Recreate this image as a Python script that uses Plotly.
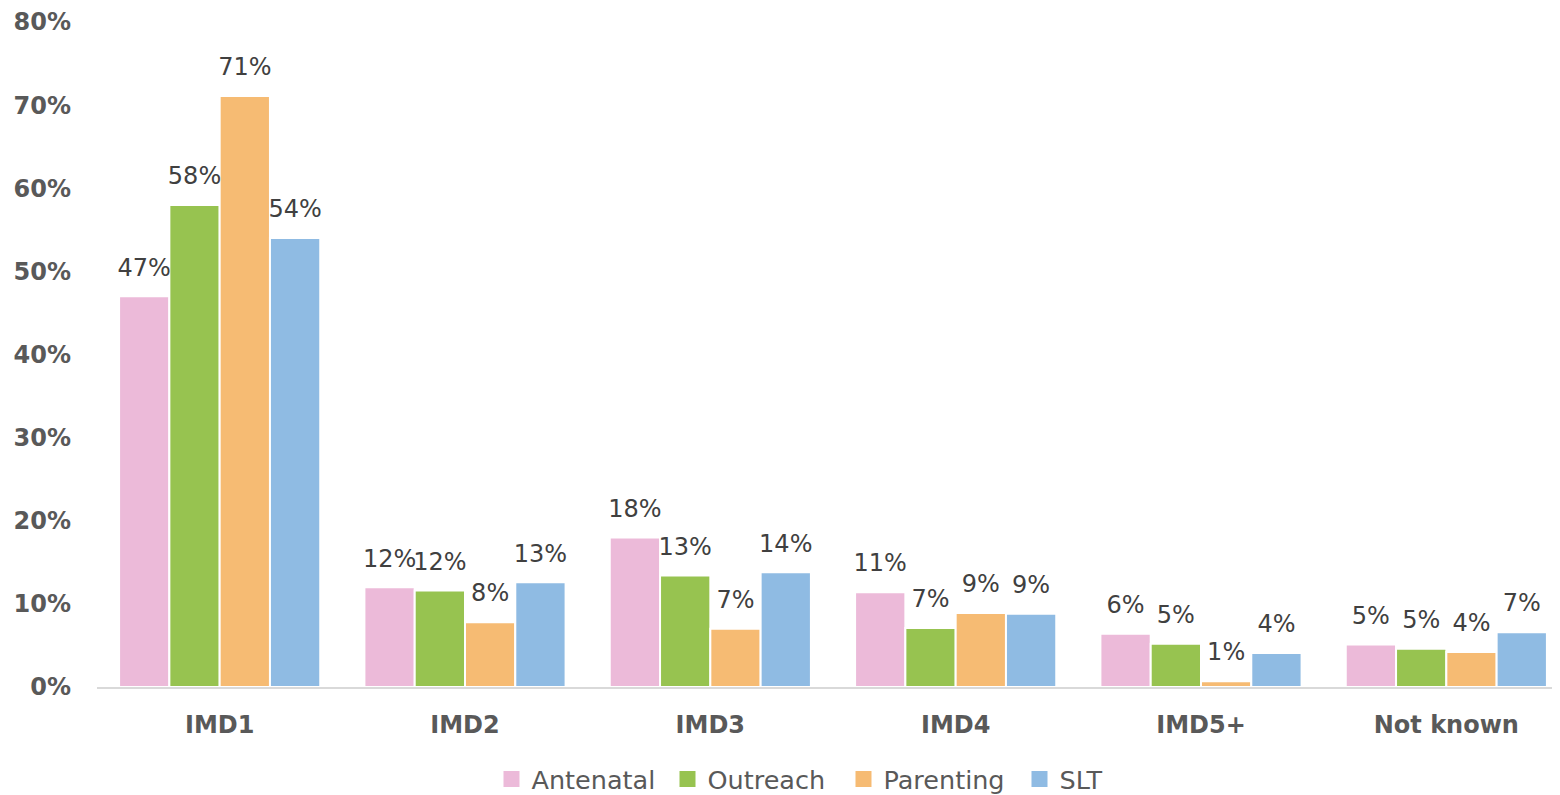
import plotly.graph_objects as go

# IMD categories and share of families per programme
categories = ["IMD1", "IMD2", "IMD3", "IMD4", "IMD5+", "Not known"]
antenatal = [0.47, 0.12, 0.18, 0.114, 0.064, 0.051]
outreach = [0.58, 0.116, 0.134, 0.071, 0.052, 0.046]
parenting = [0.711, 0.078, 0.070, 0.089, 0.007, 0.042]
slt = [0.54, 0.126, 0.138, 0.088, 0.041, 0.066]

series = [
    ("Antenatal", antenatal, "#ECBAD9"),
    ("Outreach", outreach, "#97C350"),
    ("Parenting", parenting, "#F6BB73"),
    ("SLT", slt, "#8FBBE3"),
]

FONT = "DejaVu Sans"

fig = go.Figure()
for name, vals, color in series:
    fig.add_trace(go.Bar(
        name=name,
        x=categories,
        y=vals,
        offsetgroup=name,
        marker=dict(color=color, line=dict(color="white", width=2)),
        showlegend=False,
    ))
    # value labels sitting above each bar
    fig.add_trace(go.Scatter(
        x=categories,
        y=vals,
        offsetgroup=name,
        mode="markers+text",
        marker=dict(size=22, color="rgba(0,0,0,0)"),
        text=[f"{v:.0%}" for v in vals],
        textposition="top center",
        textfont=dict(family=FONT, size=24, color="#404040"),
        cliponaxis=False,
        showlegend=False,
        hoverinfo="skip",
    ))
    # legend entry with a larger square swatch
    fig.add_trace(go.Scatter(
        x=[None],
        y=[None],
        offsetgroup=name,
        name=name,
        mode="markers",
        marker=dict(symbol="square", size=17, color=color),
    ))

fig.update_layout(
    barmode="group",
    scattermode="group",
    bargap=0.18,
    bargroupgap=0.0,
    width=1571,
    height=811,
    margin=dict(l=89, r=10, t=14, b=132),
    plot_bgcolor="white",
    paper_bgcolor="white",
    font=dict(family=FONT, color="#595959"),
    legend=dict(
        orientation="h",
        x=0.268, xanchor="left",
        y=-0.139, yanchor="middle",
        font=dict(family=FONT, size=25.5, color="#595959"),
        traceorder="normal",
        itemwidth=30,
        entrywidth=131,
    ),
)

fig.update_yaxes(
    range=[0, 0.8],
    dtick=0.1,
    tickformat=".0%",
    showgrid=False,
    zeroline=False,
    automargin=False,
    tickfont=dict(family=FONT, size=24, color="#595959", weight="bold"),
    ticklabelstandoff=25,
)
fig.update_xaxes(
    showline=True,
    linecolor="#D9D9D9",
    linewidth=2,
    automargin=False,
    tickfont=dict(family=FONT, size=24, color="#595959", weight="bold"),
    ticklabelstandoff=15,
)

fig.write_html("out.html")
